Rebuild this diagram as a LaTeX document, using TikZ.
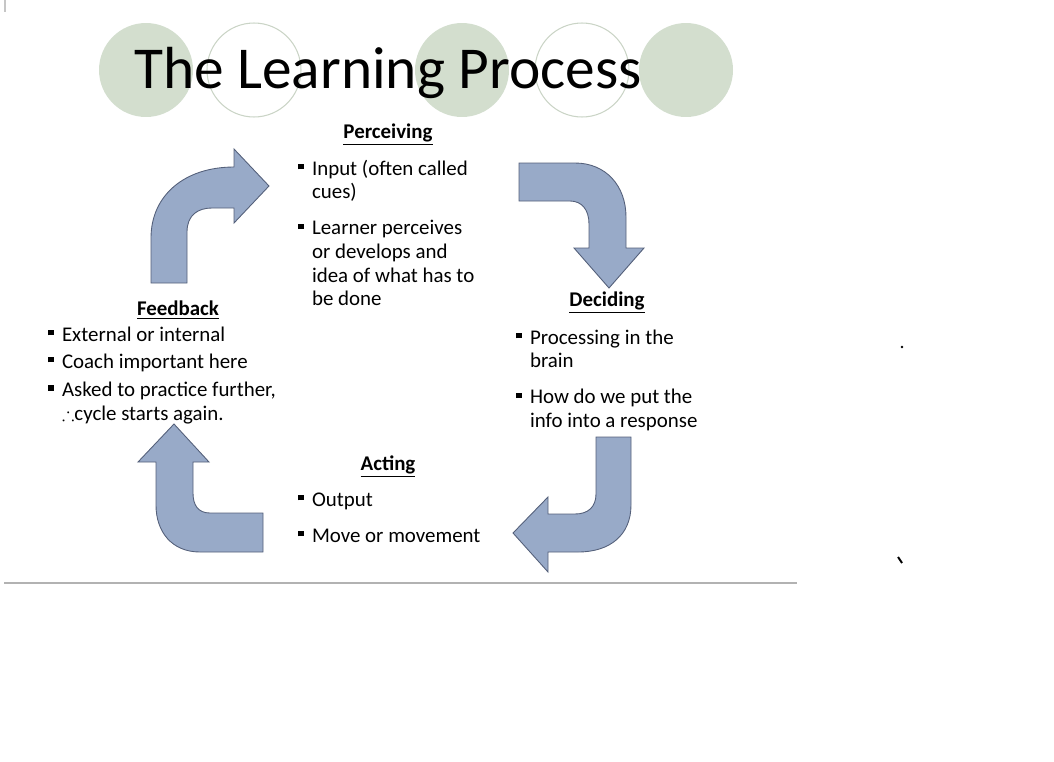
\documentclass[tikz,border=0pt]{standalone}
\usepackage{amssymb}
\usepackage{fontspec}
\setmainfont{Carlito}
\usetikzlibrary{positioning}
\definecolor{circfill}{RGB}{211,222,206}
\definecolor{circline}{RGB}{202,212,198}
\definecolor{arrowfill}{RGB}{152,170,200}
\definecolor{arrowline}{RGB}{84,96,122}
\definecolor{rulecol}{RGB}{178,178,178}
\newcommand{\bul}{\rule[0.27em]{0.26em}{0.26em}}

\begin{document}
\begin{tikzpicture}[
    x=0.02cm, y=-0.02cm,
    disc/.style={
        circle,
        fill=circfill,
        minimum size=1.88cm,
        inner sep=0pt
    },
    ring/.style={
        circle,
        draw=circline,
        line width=0.6pt,
        minimum size=1.88cm,
        inner sep=0pt
    },
    bentarrow/.style={
        fill=arrowfill,
        draw=arrowline,
        line width=0.5pt
    },
    heading/.style={
        anchor=base,
        inner sep=0pt,
        font=\fontsize{11.9}{13.5}\selectfont\bfseries
    },
    itemlist/.style={
        anchor=base west,
        inner sep=0pt,
        font=\fontsize{11.9}{13.5}\selectfont
    }
    ]
    \useasboundingbox (0,0) rectangle (1054,761);

    % Title
    \node[disc] (c1) at (146,70) {};
    \node[ring] (c2) at (254,70) {};
    \node[disc] (c3) at (462,70) {};
    \node[ring] (c4) at (582,70) {};
    \node[disc] (c5) at (686,70) {};
    \node[anchor=base west, inner sep=0pt, font=\fontsize{33.8}{40}\selectfont] (title) at (134,88) {The Learning Process};

    % Headings
    \node[heading] (perceiving) at (388,138) {\underline{Perceiving}};
    \node[heading] (deciding) at (607,306) {\underline{Deciding}};
    \node[heading] (acting) at (388,470) {\underline{Acting}};
    \node[heading] (feedback) at (178,315) {\underline{Feedback}};

    % Bullet lists
    \node[itemlist] (perclist) at (298,175) {\begin{tabular}[t]{@{}l@{\hspace{4.7pt}}l@{}}
        \bul & Input (often called\\
             & cues)\\[7pt]
        \bul & Learner perceives\\
             & or develops and\\
             & idea of what has to\\
             & be done
    \end{tabular}};
    \node[itemlist] (decilist) at (516,344) {\begin{tabular}[t]{@{}l@{\hspace{4.7pt}}l@{}}
        \bul & Processing in the\\
             & brain\\[7pt]
        \bul & How do we put the\\
             & info into a response
    \end{tabular}};
    \node[itemlist] (actlist) at (298,506) {\begin{tabular}[t]{@{}l@{\hspace{4.7pt}}l@{}}
        \bul & Output\\[7pt]
        \bul & Move or movement
    \end{tabular}};
    \node[itemlist, font=\fontsize{11.9}{12.6}\selectfont] (feedlist) at (48,341) {\begin{tabular}[t]{@{}l@{\hspace{4.7pt}}l@{}}
        \bul & External or internal\\[2.8pt]
        \bul & Coach important here\\[3.6pt]
        \bul & Asked to practice further,\\[1.2pt]
             & {\fontsize{10.6}{12}\selectfont$\therefore$}cycle starts again.
    \end{tabular}};

    % Bent arrows
    \draw[bentarrow] (151,283) -- (151,238) .. controls (151,195) and (185,167) .. (234,167)
        -- (234,149) -- (269,186) -- (234,223) -- (234,208) -- (212,208)
        .. controls (198,208) and (187,215) .. (187,232) -- (187,283) -- cycle;
    \draw[bentarrow] (519,163) -- (575,163) .. controls (606,163) and (626,186) .. (626,217)
        -- (626,248) -- (644,248) -- (609,288) -- (574,248) -- (589,248) -- (589,224)
        .. controls (589,210) and (582,201) .. (570,201) -- (519,201) -- cycle;
    \draw[bentarrow] (596,437) -- (631,437) -- (631,505) .. controls (631,535) and (610,552) .. (578,552)
        -- (548,552) -- (548,572) -- (513,533) -- (548,497) -- (548,514) -- (575,514)
        .. controls (588,514) and (596,507) .. (596,494) -- cycle;
    \draw[bentarrow] (263,513) -- (263,552) -- (200,552) .. controls (172,552) and (156,532) .. (156,505)
        -- (156,462) -- (138,462) -- (174,424) -- (209,462) -- (193,462) -- (193,493)
        .. controls (193,505) and (198,513) .. (210,513) -- cycle;

    % Page edge and specks
    \draw[rulecol, line width=1.2pt] (4,583) -- (797,583);
    \draw[gray!45, line width=0.8pt] (5,0) -- (5,12);
    \fill (902,347) circle (0.8pt);
    \draw[line width=1.1pt] (898,557) -- (902,563);
\end{tikzpicture}
\end{document}
